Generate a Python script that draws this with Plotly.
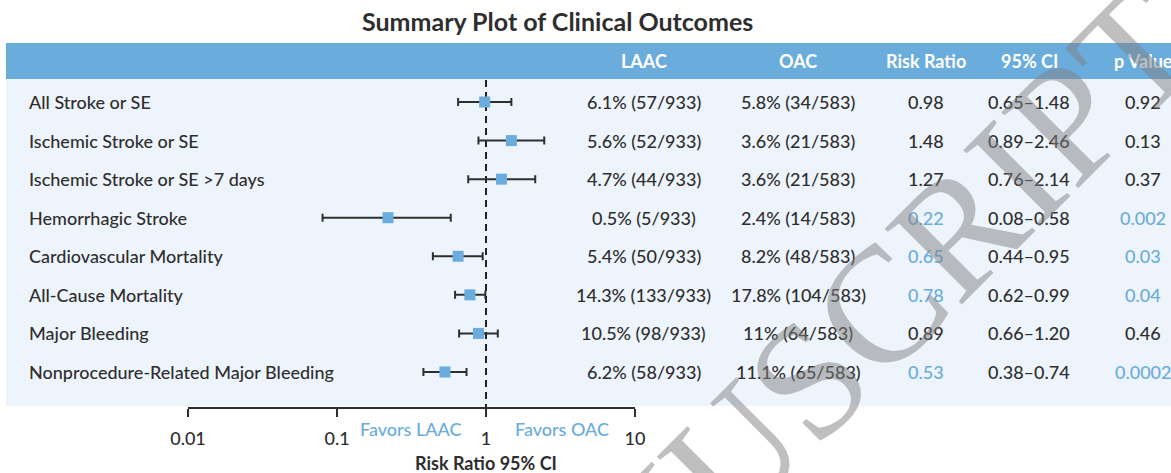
import plotly.graph_objects as go

# ---------------- data ----------------
outcomes = [
    "All Stroke or SE",
    "Ischemic Stroke or SE",
    "Ischemic Stroke or SE >7 days",
    "Hemorrhagic Stroke",
    "Cardiovascular Mortality",
    "All-Cause Mortality",
    "Major Bleeding",
    "Nonprocedure-Related Major Bleeding",
]
laac_text = ["6.1% (57/933)", "5.6% (52/933)", "4.7% (44/933)", "0.5% (5/933)",
             "5.4% (50/933)", "14.3% (133/933)", "10.5% (98/933)", "6.2% (58/933)"]
oac_text = ["5.8% (34/583)", "3.6% (21/583)", "3.6% (21/583)", "2.4% (14/583)",
            "8.2% (48/583)", "17.8% (104/583)", "11% (64/583)", "11.1% (65/583)"]
risk_ratio = [0.98, 1.48, 1.27, 0.22, 0.65, 0.78, 0.89, 0.53]
ci_low = [0.65, 0.89, 0.76, 0.08, 0.44, 0.62, 0.66, 0.38]
ci_high = [1.48, 2.46, 2.14, 0.58, 0.95, 0.99, 1.20, 0.74]
p_text = ["0.92", "0.13", "0.37", "0.002", "0.03", "0.04", "0.46", "0.0002"]
significant = [False, False, False, True, True, True, False, True]
headers = ["LAAC", "OAC", "Risk Ratio", "95% CI", "p Value"]
tick_vals = [0.01, 0.1, 1, 10]
tick_text = ["0.01", "0.1", "1", "10"]

# ---------------- layout helpers ----------------
W, H = 1171, 473
FONT = "Lato"
DARK = "#2e2e2e"
BLUE = "#6aacdc"
LIGHT = "#eef4fc"

ROW0, ROWSTEP = 102, 38.57
X1PX, DECPX = 486, 149


def px_x(px):
    return px / W


def px_y(py):
    return 1 - py / H


def row_of(py):
    return (py - ROW0) / ROWSTEP


rows = list(range(len(outcomes)))
fig = go.Figure()

# dashed reference line at RR = 1
fig.add_trace(go.Scatter(x=[1, 1], y=[row_of(80), row_of(416)], mode="lines",
                         line=dict(color="#222222", width=2, dash="7px,5px"),
                         hoverinfo="skip", showlegend=False))
# axis line from 0.01 to 10
fig.add_trace(go.Scatter(x=[tick_vals[0], tick_vals[-1]], y=[row_of(408)] * 2, mode="lines",
                         line=dict(color=DARK, width=2), hoverinfo="skip", showlegend=False))
# forest points
fig.add_trace(go.Scatter(
    x=risk_ratio, y=rows, mode="markers",
    marker=dict(symbol="square", size=11, color=BLUE),
    error_x=dict(type="data", symmetric=False,
                 array=[h - r for h, r in zip(ci_high, risk_ratio)],
                 arrayminus=[r - l for r, l in zip(risk_ratio, ci_low)],
                 color=DARK, thickness=2, width=4),
    showlegend=False))

shapes = [
    dict(type="rect", xref="paper", yref="paper", x0=px_x(6), x1=1, y0=px_y(406), y1=px_y(79),
         fillcolor=LIGHT, line=dict(width=0), layer="below"),
    dict(type="rect", xref="paper", yref="paper", x0=px_x(6), x1=1, y0=px_y(79), y1=px_y(43),
         fillcolor=BLUE, line=dict(width=0), layer="below"),
]


def text_ann(text, xpx, y, yref="paper", size=18, color=DARK, xanchor="center", weight=500):
    return dict(text=text, x=px_x(xpx), y=(px_y(y) if yref == "paper" else y),
                xref="paper", yref=yref, xanchor=xanchor, yanchor="middle",
                showarrow=False, font=dict(family=FONT, size=size, color=color, weight=weight))


ann = []
ann.append(text_ann("<b>Summary Plot of Clinical Outcomes</b>", 557, 21, size=25))
col_x = [644, 798, 926, 1029, 1143]
for hx, h in zip(col_x, headers):
    ann.append(text_ann(f"<b>{h}</b>", hx, 61, size=18, color="white"))

for i in rows:
    ann.append(text_ann(outcomes[i], 27, i, yref="y", xanchor="left"))
    vals = [laac_text[i], oac_text[i], f"{risk_ratio[i]:.2f}",
            f"{ci_low[i]:.2f}\u2013{ci_high[i]:.2f}", p_text[i]]
    for j, (cx, v) in enumerate(zip(col_x, vals)):
        color = BLUE if (significant[i] and j in (2, 4)) else DARK
        ann.append(text_ann(v, cx, i, yref="y", color=color))

ann.append(text_ann("Favors LAAC", 411, 429, color=BLUE))
ann.append(text_ann("Favors OAC", 562, 429, color=BLUE))
ann.append(text_ann("<b>Risk Ratio 95% CI</b>", 486, 463, size=18))

# watermark
ann.append(dict(text="MANUSCRIPT", x=px_x(795), y=px_y(392), xref="paper", yref="paper",
                xanchor="center", yanchor="middle", showarrow=False, textangle=-45,
                font=dict(family="Liberation Serif", size=165, color="rgba(128,128,128,0.5)")))

fig.update_layout(
    width=W, height=H, margin=dict(l=0, r=0, t=0, b=0),
    paper_bgcolor="white", plot_bgcolor="rgba(0,0,0,0)",
    shapes=shapes, annotations=ann, showlegend=False,
    xaxis=dict(type="log", range=[-X1PX / DECPX, (W - X1PX) / DECPX], domain=[0, 1],
               anchor="free", position=px_y(408), automargin=False,
               showgrid=False, zeroline=False, showline=False,
               tickvals=tick_vals, ticktext=tick_text, ticks="outside", ticklen=8,
               tickwidth=2, tickcolor=DARK, ticklabelstandoff=6,
               tickfont=dict(family=FONT, size=18, color=DARK, weight=500)),
    yaxis=dict(range=[row_of(H), row_of(0)], domain=[0, 1], visible=False, automargin=False),
)

fig.write_html("out.html", config={"displayModeBar": False},
               post_script="document.body.style.margin='0';")
